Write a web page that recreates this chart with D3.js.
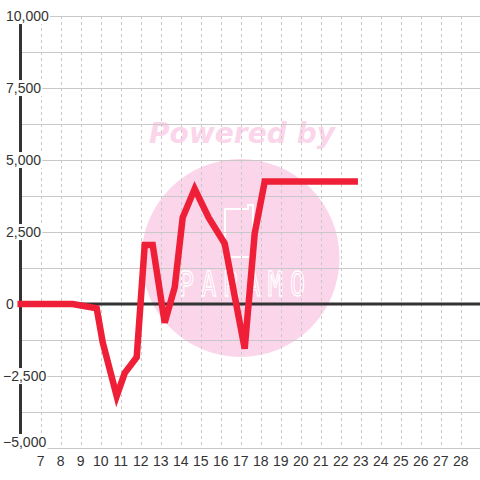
<!DOCTYPE html>
<html>
<head>
<meta charset="utf-8">
<script src="https://cdn.jsdelivr.net/npm/d3@7"></script>
<style>
	body { margin: 0; background: #fff; }
	svg { display: block; font-family: 'Liberation Sans', Arial, sans-serif; }
</style>
</head>
<body>
<div id="chart"></div>
<script>
/* global d3 */

const days = [6, 8.6, 9.8, 10.1, 10.8, 11.2, 11.8, 12.2, 12.6, 13.2, 13.7, 14.1, 14.7, 15.4, 16.2, 17.2, 17.7, 18.2, 22.7];
const values = [0, 0, -150, -1330, -3200, -2400, -1850, 2050, 2050, -650, 580, 3000, 4000, 3000, 2100, -1550, 2450, 4250, 4250];
const xTicks = d3.range(7, 29);
const yTicks = [-5000, -2500, 0, 2500, 5000, 7500, 10000];
const yGrid = d3.range(-5000, 10001, 1250);

const width = 480;
const height = 480;

const svg = d3.select('#chart').append('svg')
	.attr('width', width)
	.attr('height', height);

const x = d3.scaleLinear()
	.domain([6, 29])
	.range([20.7, 480.7]);

const y = d3.scaleLinear()
	.domain([-5000, 10000])
	.range([448, 16]);

// watermark sits under the grid
const mark = svg.append('g').attr('class', 'watermark');

mark.append('circle')
	.attr('cx', 240.5)
	.attr('cy', 258)
	.attr('r', 99)
	.attr('fill', '#fbd5ea');

mark.append('text')
	.attr('x', 242)
	.attr('y', 143)
	.attr('text-anchor', 'middle')
	.attr('font-family', 'DejaVu Sans, sans-serif')
	.attr('font-weight', 'bold')
	.attr('font-style', 'italic')
	.attr('font-size', 28)
	.attr('textLength', 186)
	.attr('fill', '#fbd5ea')
	.text('Powered by');

mark.append('path')
	.attr('d', 'M225,257 V209 H248 V205 H253 V257 Z')
	.attr('fill', 'none')
	.attr('stroke', '#fff')
	.attr('stroke-width', 2);

mark.append('text')
	.attr('transform', 'translate(242,296) scale(1,1.35)')
	.attr('text-anchor', 'middle')
	.attr('font-family', 'DejaVu Sans Mono, monospace')
	.attr('font-size', 25)
	.attr('textLength', 126)
	.attr('lengthAdjust', 'spacing')
	.attr('fill', 'none')
	.attr('stroke', '#fff')
	.attr('stroke-width', 1)
	.text('PARAMO');

// grid
svg.append('g')
	.selectAll('line')
	.data(yGrid)
	.enter().append('line')
	.attr('x1', 20)
	.attr('x2', width)
	.attr('y1', d => Math.round(y(d)) + 0.5)
	.attr('y2', d => Math.round(y(d)) + 0.5)
	.attr('stroke', '#c8c8c8')
	.attr('stroke-width', 1);

svg.append('g')
	.selectAll('line')
	.data(d3.range(7, 30))
	.enter().append('line')
	.attr('x1', d => Math.round(x(d)) + 0.5)
	.attr('x2', d => Math.round(x(d)) + 0.5)
	.attr('y1', y(10000))
	.attr('y2', y(-5000))
	.attr('stroke', '#c8c8c8')
	.attr('stroke-dasharray', '3,3');

// axes lines
svg.append('line')
	.attr('x1', 20.5)
	.attr('x2', 20.5)
	.attr('y1', 16)
	.attr('y2', y(-5000))
	.attr('stroke', '#333')
	.attr('stroke-width', 3);

svg.append('line')
	.attr('x1', 20)
	.attr('x2', width)
	.attr('y1', y(0))
	.attr('y2', y(0))
	.attr('stroke', '#333')
	.attr('stroke-width', 3);

// y labels with a background box that hides the axis behind them
const yLabel = svg.append('g')
	.selectAll('g')
	.data(yTicks)
	.enter().append('g');

yLabel.append('rect')
	.attr('fill', '#fff');

yLabel.append('text')
	.attr('x', d => d < 0 ? 3 : 6)
	.attr('y', d => d === -5000 ? y(d) - 1 : y(d))
	.attr('dy', d => d === -5000 ? '0' : '0.36em')
	.attr('font-size', 14)
	.attr('fill', '#333')
	.text(d => d3.format(',')(d));

yLabel.each(function () {
	const box = d3.select(this).select('text').node().getBBox();
	d3.select(this).select('rect')
		.attr('x', box.x)
		.attr('y', box.y)
		.attr('width', box.width + 1)
		.attr('height', box.height);
});

// x labels
svg.append('g')
	.selectAll('text')
	.data(xTicks)
	.enter().append('text')
	.attr('x', d => x(d))
	.attr('y', 466)
	.attr('text-anchor', 'middle')
	.attr('font-size', 14)
	.attr('fill', '#333')
	.text(d => d);

const line = d3.line()
	.x((d, i) => x(days[i]))
	.y(d => y(d));

svg.append('path')
	.datum(values)
	.attr('d', line)
	.attr('fill', 'none')
	.attr('stroke', '#ee1f36')
	.attr('stroke-width', 6.5)
	.attr('stroke-linecap', 'square')
	.attr('stroke-linejoin', 'miter');
</script>
</body>
</html>
